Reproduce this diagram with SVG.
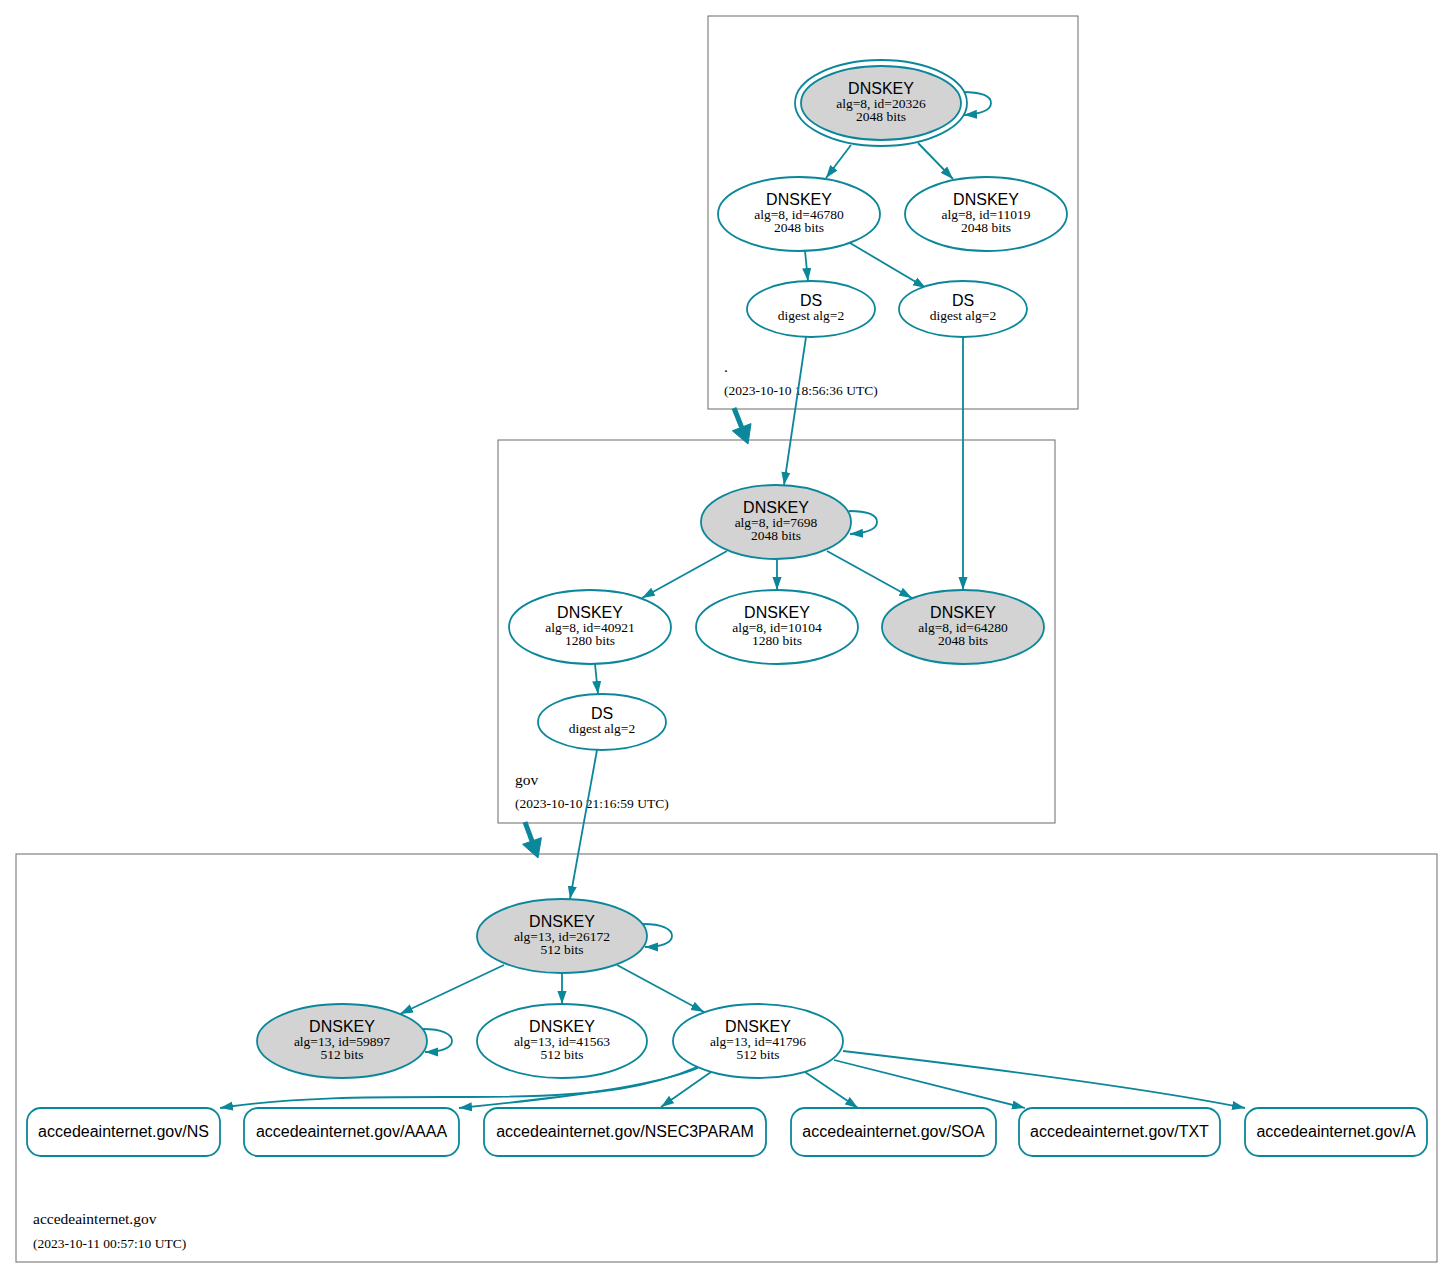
<svg xmlns="http://www.w3.org/2000/svg" width="1453" height="1278" viewBox="0 0 1453 1278">
<style>
.cl{fill:#fff;stroke:#6b6b6b;stroke-width:1}
.n{fill:#fff;stroke:#0a879a;stroke-width:1.8}
.f{fill:#d3d3d3}
.e{fill:none;stroke:#0a879a;stroke-width:1.8}
.big{fill:none;stroke:#0a879a;stroke-width:5}
.hd{fill:#0a879a;stroke:#0a879a;stroke-width:1}
.h{font-family:"Liberation Sans",Arial,sans-serif;font-size:16px;fill:#000;text-anchor:middle}
.s{font-family:"Liberation Serif","Times New Roman",serif;font-size:13.5px;fill:#000;text-anchor:middle}
.lbl{font-family:"Liberation Serif","Times New Roman",serif;font-size:15.5px;fill:#000}
.dt{font-family:"Liberation Serif","Times New Roman",serif;font-size:13.5px;fill:#000}
</style>
<defs>
<marker id="a" viewBox="0 0 10 7" refX="10" refY="3.5" markerWidth="13" markerHeight="10" markerUnits="userSpaceOnUse" orient="auto"><path d="M0,0L10,3.5L0,7z" fill="#0a879a"/></marker>
</defs>
<rect width="1453" height="1278" fill="#fff"/>

<g id="cluster-root">
<rect class="cl" x="708" y="16" width="370" height="393"/>
<text class="lbl" x="724" y="372">.</text>
<text class="dt" x="724" y="395">(2023-10-10 18:56:36 UTC)</text>
</g>
<g id="cluster-gov">
<rect class="cl" x="498" y="440" width="557" height="383"/>
<text class="lbl" x="515" y="785">gov</text>
<text class="dt" x="515" y="808">(2023-10-10 21:16:59 UTC)</text>
</g>
<g id="cluster-domain">
<rect class="cl" x="16" y="854" width="1421" height="408"/>
<text class="lbl" x="33" y="1224">accedeainternet.gov</text>
<text class="dt" x="33" y="1248">(2023-10-11 00:57:10 UTC)</text>
</g>

<g id="edges">
<path class="big" d="M734,408L741.6,427.2"/>
<polygon class="hd" points="751,423.6 748,444 732.3,430.8"/>
<path class="big" d="M525,822L532,841"/>
<polygon class="hd" points="541.4,837.7 538,858 522.6,844.3"/>
<path class="e" d="M962,92C981,92 991,96 991,103C991,110 980,114 964,115" marker-end="url(#a)"/>
<path class="e" d="M851,145L826,178" marker-end="url(#a)"/>
<path class="e" d="M918,143L953,179" marker-end="url(#a)"/>
<path class="e" d="M805,251L808,281" marker-end="url(#a)"/>
<path class="e" d="M850,243L926,288" marker-end="url(#a)"/>
<path class="e" d="M806,337L784,485" marker-end="url(#a)"/>
<path class="e" d="M963,337L963,590" marker-end="url(#a)"/>
<path class="e" d="M849,511C867,511 877,515 877,522C877,529 866,533 850,534" marker-end="url(#a)"/>
<path class="e" d="M727,551L642,598" marker-end="url(#a)"/>
<path class="e" d="M777,560L777,590" marker-end="url(#a)"/>
<path class="e" d="M827,551L912,598" marker-end="url(#a)"/>
<path class="e" d="M595,664L598,694" marker-end="url(#a)"/>
<path class="e" d="M597,750L570,899" marker-end="url(#a)"/>
<path class="e" d="M643,924C662,924 672,929 672,936C672,943 661,947 645,947" marker-end="url(#a)"/>
<path class="e" d="M504,965L400,1014" marker-end="url(#a)"/>
<path class="e" d="M562,973L562,1004" marker-end="url(#a)"/>
<path class="e" d="M617,965L704,1012" marker-end="url(#a)"/>
<path class="e" d="M423,1029C442,1029 452,1034 452,1041C452,1048 441,1052 425,1052" marker-end="url(#a)"/>
<path class="e" d="M697,1067C655,1085 610,1097 470,1097C380,1097 300,1096 220,1108" marker-end="url(#a)"/>
<path class="e" d="M698,1068C655,1086 560,1098 459,1108" marker-end="url(#a)"/>
<path class="e" d="M711,1072L661,1107" marker-end="url(#a)"/>
<path class="e" d="M805,1072L858,1108" marker-end="url(#a)"/>
<path class="e" d="M834,1060L1025,1108" marker-end="url(#a)"/>
<path class="e" d="M843,1051C980,1067 1140,1087 1245,1108" marker-end="url(#a)"/>
</g>

<g id="dnskey-20326">
<ellipse class="n" cx="881" cy="103" rx="86" ry="43" fill="none"/>
<ellipse class="n f" cx="881" cy="103" rx="80" ry="37"/>
<text class="h" x="881" y="94">DNSKEY</text>
<text class="s" x="881" y="108">alg=8, id=20326</text>
<text class="s" x="881" y="121">2048 bits</text>
</g>
<g id="dnskey-46780">
<ellipse class="n" cx="799" cy="214" rx="81" ry="37"/>
<text class="h" x="799" y="205">DNSKEY</text>
<text class="s" x="799" y="219">alg=8, id=46780</text>
<text class="s" x="799" y="232">2048 bits</text>
</g>
<g id="dnskey-11019">
<ellipse class="n" cx="986" cy="214" rx="81" ry="37"/>
<text class="h" x="986" y="205">DNSKEY</text>
<text class="s" x="986" y="219">alg=8, id=11019</text>
<text class="s" x="986" y="232">2048 bits</text>
</g>
<g id="ds-root-1">
<ellipse class="n" cx="811" cy="309" rx="64" ry="28"/>
<text class="h" x="811" y="306">DS</text>
<text class="s" x="811" y="320">digest alg=2</text>
</g>
<g id="ds-root-2">
<ellipse class="n" cx="963" cy="309" rx="64" ry="28"/>
<text class="h" x="963" y="306">DS</text>
<text class="s" x="963" y="320">digest alg=2</text>
</g>

<g id="dnskey-7698">
<ellipse class="n f" cx="776" cy="522" rx="75" ry="37"/>
<text class="h" x="776" y="513">DNSKEY</text>
<text class="s" x="776" y="527">alg=8, id=7698</text>
<text class="s" x="776" y="540">2048 bits</text>
</g>
<g id="dnskey-40921">
<ellipse class="n" cx="590" cy="627" rx="81" ry="37"/>
<text class="h" x="590" y="618">DNSKEY</text>
<text class="s" x="590" y="632">alg=8, id=40921</text>
<text class="s" x="590" y="645">1280 bits</text>
</g>
<g id="dnskey-10104">
<ellipse class="n" cx="777" cy="627" rx="81" ry="37"/>
<text class="h" x="777" y="618">DNSKEY</text>
<text class="s" x="777" y="632">alg=8, id=10104</text>
<text class="s" x="777" y="645">1280 bits</text>
</g>
<g id="dnskey-64280">
<ellipse class="n f" cx="963" cy="627" rx="81" ry="37"/>
<text class="h" x="963" y="618">DNSKEY</text>
<text class="s" x="963" y="632">alg=8, id=64280</text>
<text class="s" x="963" y="645">2048 bits</text>
</g>
<g id="ds-gov">
<ellipse class="n" cx="602" cy="722" rx="64" ry="28"/>
<text class="h" x="602" y="719">DS</text>
<text class="s" x="602" y="733">digest alg=2</text>
</g>

<g id="dnskey-26172">
<ellipse class="n f" cx="562" cy="936" rx="85" ry="37"/>
<text class="h" x="562" y="927">DNSKEY</text>
<text class="s" x="562" y="941">alg=13, id=26172</text>
<text class="s" x="562" y="954">512 bits</text>
</g>
<g id="dnskey-59897">
<ellipse class="n f" cx="342" cy="1041" rx="85" ry="37"/>
<text class="h" x="342" y="1032">DNSKEY</text>
<text class="s" x="342" y="1046">alg=13, id=59897</text>
<text class="s" x="342" y="1059">512 bits</text>
</g>
<g id="dnskey-41563">
<ellipse class="n" cx="562" cy="1041" rx="85" ry="37"/>
<text class="h" x="562" y="1032">DNSKEY</text>
<text class="s" x="562" y="1046">alg=13, id=41563</text>
<text class="s" x="562" y="1059">512 bits</text>
</g>
<g id="dnskey-41796">
<ellipse class="n" cx="758" cy="1041" rx="85" ry="37"/>
<text class="h" x="758" y="1032">DNSKEY</text>
<text class="s" x="758" y="1046">alg=13, id=41796</text>
<text class="s" x="758" y="1059">512 bits</text>
</g>

<g id="rr-ns">
<rect class="n" x="27" y="1108" width="193" height="48" rx="14"/>
<text class="h" x="123.5" y="1137">accedeainternet.gov/NS</text>
</g>
<g id="rr-aaaa">
<rect class="n" x="244" y="1108" width="215" height="48" rx="14"/>
<text class="h" x="351.5" y="1137">accedeainternet.gov/AAAA</text>
</g>
<g id="rr-nsec3param">
<rect class="n" x="484" y="1108" width="282" height="48" rx="14"/>
<text class="h" x="625" y="1137">accedeainternet.gov/NSEC3PARAM</text>
</g>
<g id="rr-soa">
<rect class="n" x="791" y="1108" width="205" height="48" rx="14"/>
<text class="h" x="893.5" y="1137">accedeainternet.gov/SOA</text>
</g>
<g id="rr-txt">
<rect class="n" x="1019" y="1108" width="201" height="48" rx="14"/>
<text class="h" x="1119.5" y="1137">accedeainternet.gov/TXT</text>
</g>
<g id="rr-a">
<rect class="n" x="1245" y="1108" width="182" height="48" rx="14"/>
<text class="h" x="1336" y="1137">accedeainternet.gov/A</text>
</g>
</svg>
